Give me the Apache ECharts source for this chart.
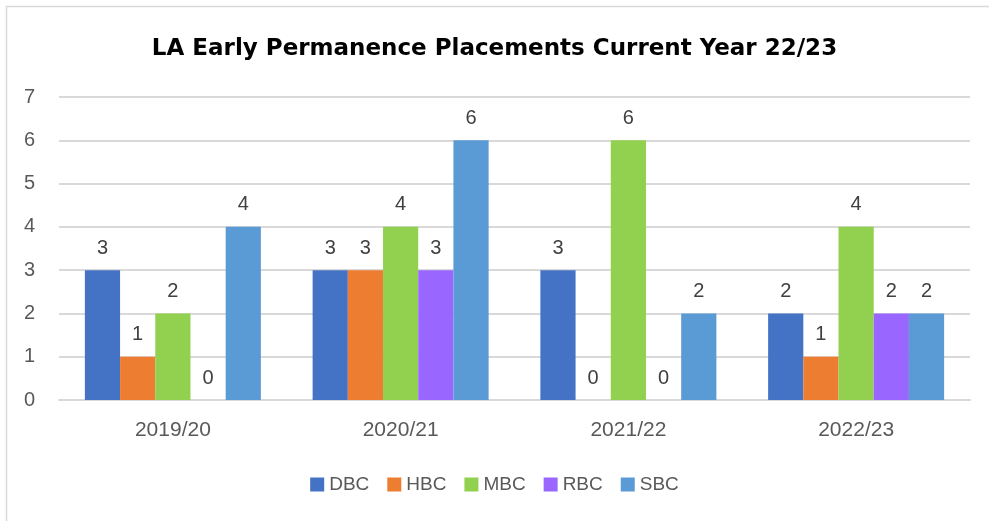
<!DOCTYPE html>
<html>
<head>
<meta charset="utf-8">
<script src="https://cdn.jsdelivr.net/npm/echarts@6/dist/echarts.min.js"></script>
<style>
  html, body { margin: 0; padding: 0; background: #fff; }
  #chart { width: 989px; height: 521px; }
</style>
</head>
<body>
<div id="chart"></div>
<script>
// 数据
var years = ['2019/20', '2020/21', '2021/22', '2022/23'];
var dbc = [3, 3, 3, 2];
var hbc = [1, 3, 0, 1];
var mbc = [2, 4, 6, 4];
var rbc = [0, 3, 0, 2];
var sbc = [4, 6, 2, 2];
var yTicks = [0, 1, 2, 3, 4, 5, 6, 7];

var font = 'Liberation Sans, Arial, sans-serif';

function bar(name, data, color) {
  return {
    name: name,
    type: 'bar',
    data: data,
    barWidth: 35.2,
    barGap: '0%',
    itemStyle: { color: color },
    label: {
      show: true,
      position: 'top',
      distance: 12,
      color: '#404040',
      fontSize: 20,
      fontFamily: font
    }
  };
}

var chart = echarts.init(document.getElementById('chart'));
chart.setOption({
  animation: false,
  title: {
    text: 'LA Early Permanence Placements Current Year 22/23',
    left: 'center',
    top: 33,
    textStyle: { fontSize: 23, fontWeight: 'bold', color: '#000', fontFamily: 'DejaVu Sans, sans-serif' }
  },
  graphic: [{
    type: 'rect',
    shape: { x: 6.5, y: 6.5, width: 1000, height: 1000 },
    style: { fill: 'none', stroke: '#d9d9d9', lineWidth: 1.5 },
    silent: true
  }],
  legend: {
    bottom: 22,
    left: 'center',
    itemWidth: 14,
    itemHeight: 14,
    itemGap: 18,
    icon: 'rect',
    textStyle: { fontSize: 19, color: '#595959', fontFamily: font }
  },
  grid: { left: 59, right: 19, top: 97, bottom: 121 },
  xAxis: {
    type: 'category',
    data: years,
    axisLine: { lineStyle: { color: '#d9d9d9', width: 2 } },
    axisTick: { show: false },
    axisLabel: { fontSize: 21, color: '#595959', margin: 20, fontFamily: font }
  },
  yAxis: {
    type: 'value',
    min: yTicks[0],
    max: yTicks[yTicks.length - 1],
    interval: 1,
    axisLine: { show: false },
    axisTick: { show: false },
    splitLine: { lineStyle: { color: '#d9d9d9', width: 2 } },
    axisLabel: { fontSize: 20, color: '#595959', margin: 24, fontFamily: font }
  },
  series: [
    bar('DBC', dbc, '#4472C4'),
    bar('HBC', hbc, '#ED7D31'),
    bar('MBC', mbc, '#92D050'),
    bar('RBC', rbc, '#9966FF'),
    bar('SBC', sbc, '#5B9BD5')
  ]
});
</script>
</body>
</html>
